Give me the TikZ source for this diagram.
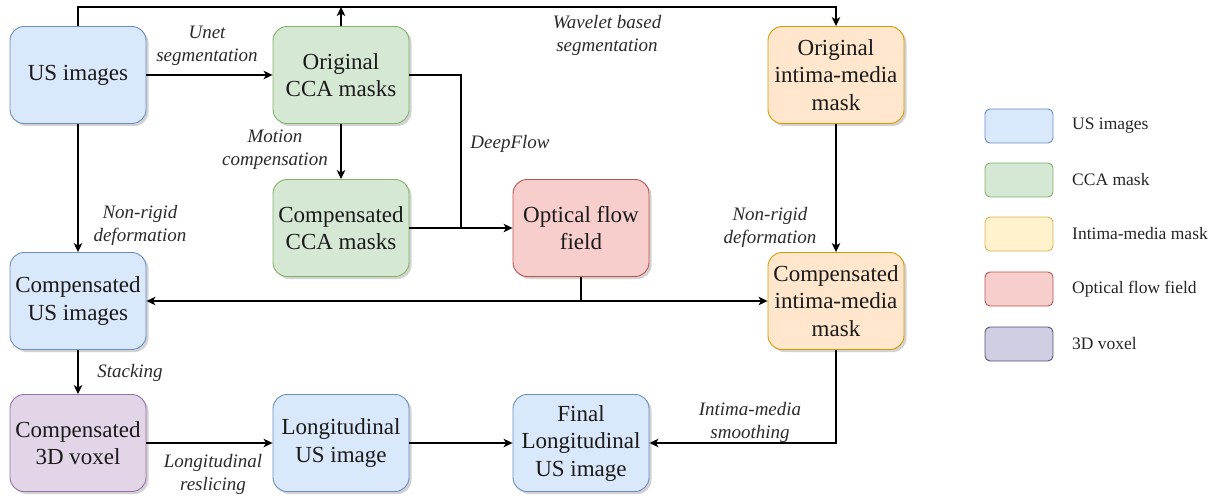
\documentclass[tikz,border=0pt]{standalone}
\usepackage{fontspec}
\setmainfont{Liberation Serif}
\usetikzlibrary{arrows.meta,shadows}
\definecolor{bfill}{HTML}{DAE8FC}\definecolor{bdraw}{HTML}{6C8EBF}
\definecolor{gfill}{HTML}{D5E8D4}\definecolor{gdraw}{HTML}{82B366}
\definecolor{ofill}{HTML}{FFE6CC}\definecolor{odraw}{HTML}{D79B00}
\definecolor{rfill}{HTML}{F8CECC}\definecolor{rdraw}{HTML}{B85450}
\definecolor{pfill}{HTML}{E1D5E7}\definecolor{pdraw}{HTML}{9673A6}
\definecolor{yfill}{HTML}{FFF2CC}\definecolor{ydraw}{HTML}{D6B656}
\definecolor{vfill}{HTML}{D0CEE2}\definecolor{vdraw}{HTML}{56517E}
\definecolor{txt}{HTML}{1A1A1A}
\definecolor{lbl}{HTML}{2A2A2A}
\begin{document}
\begin{tikzpicture}[x=1pt,y=-1pt,
  box/.style={draw, rounded corners=14pt, minimum width=136pt, minimum height=97pt,
    align=center, line width=0.9pt, inner sep=2pt, text=txt,
    font=\fontsize{23}{27.5}\selectfont,
    drop shadow={shadow xshift=2.5pt,shadow yshift=-2.5pt,opacity=0.25,fill=black!70}},
  bluebox/.style={box, fill=bfill, draw=bdraw},
  greenbox/.style={box, fill=gfill, draw=gdraw},
  orangebox/.style={box, fill=ofill, draw=odraw},
  redbox/.style={box, fill=rfill, draw=rdraw},
  purplebox/.style={box, fill=pfill, draw=pdraw},
  lab/.style={inner sep=0pt, align=center, text=lbl, font=\fontsize{19}{23}\selectfont\itshape},
  conn/.style={line width=1.5pt, black},
  arr/.style={conn, -{Stealth[length=9pt,width=8.5pt,inset=2.5pt]}},
  legbox/.style={draw, rounded corners=5pt, minimum width=68pt, minimum height=34pt, line width=0.9pt},
  legtxt/.style={anchor=west, inner sep=0pt, text=black!85, font=\fontsize{17.5}{21}\selectfont},
]
\useasboundingbox (0,0) rectangle (1217,500);

% main boxes
\node[bluebox]   (us)   at (78,75)   {US images};
\node[greenbox]  (occa) at (341,75)  {Original\\CCA masks};
\node[greenbox]  (ccca) at (341,228) {Compensated\\CCA masks};
\node[redbox]    (ofl)  at (581,228) {Optical flow\\field};
\node[orangebox] (oim)  at (836,75)  {Original\\intima-media\\mask};
\node[bluebox]   (cus)  at (78,301)  {Compensated\\US images};
\node[orangebox] (cim)  at (836,301) {Compensated\\intima-media\\mask};
\node[purplebox] (vox)  at (78,443)  {Compensated\\3D voxel};
\node[bluebox]   (lus)  at (341,443) {Longitudinal\\US image};
\node[bluebox]   (fin)  at (581,443) {Final\\Longitudinal\\US image};

% helper coordinates
\coordinate (topy) at (0,7);
\coordinate (jx) at (461,0);

% connectors
\draw[arr] (us.north) -- (us.north |- topy) -| (oim.north);
\draw[arr] (occa.north) -- (occa.north |- topy);
\draw[arr] (us.east) -- (occa.west);
\draw[arr] (occa.south) -- (ccca.north);
\draw[conn] (occa.east) -- (occa.east -| jx) -- (jx |- ofl.west);
\draw[arr] (ccca.east) -- (ofl.west);
\draw[arr] (us.south) -- (cus.north);
\draw[arr] (oim.south) -- (cim.north);
\coordinate (fj) at (ofl.south |- cus.east);
\draw[conn] (ofl.south) -- (fj);
\draw[arr] (fj) -- (cus.east);
\draw[arr] (fj) -- (cim.west);
\draw[arr] (cus.south) -- (vox.north);
\draw[arr] (vox.east) -- (lus.west);
\draw[arr] (lus.east) -- (fin.west);
\draw[arr] (cim.south) |- (fin.east);

% labels
\node[lab] (l1) at (207,46)  {Unet\\segmentation};
\node[lab] (l2) at (275,150) {Motion\\compensation};
\node[lab] (l3) at (510,144) {DeepFlow};
\node[lab] (l4) at (607,35)  {Wavelet based\\segmentation};
\node[lab] (l5) at (140,225) {Non-rigid\\deformation};
\node[lab] (l6) at (770,227) {Non-rigid\\deformation};
\node[lab] (l7) at (130,373) {Stacking};
\node[lab] (l8) at (213,474) {Longitudinal\\reslicing};
\node[lab] (l9) at (750,422) {Intima-media\\smoothing};

% legend
\node[legbox, fill=bfill, draw=bdraw] (g1) at (1019,126) {};
\node[legbox, fill=gfill, draw=gdraw] (g2) at (1019,180) {};
\node[legbox, fill=yfill, draw=ydraw] (g3) at (1019,234) {};
\node[legbox, fill=rfill, draw=rdraw] (g4) at (1019,289) {};
\node[legbox, fill=vfill, draw=vdraw] (g5) at (1019,344) {};
\node[legtxt] (t1) at (1072,126) {US images};
\node[legtxt] (t2) at (1072,180) {CCA mask};
\node[legtxt] (t3) at (1072,234) {Intima-media mask};
\node[legtxt] (t4) at (1072,289) {Optical flow field};
\node[legtxt] (t5) at (1072,344) {3D voxel};
\end{tikzpicture}
\end{document}
